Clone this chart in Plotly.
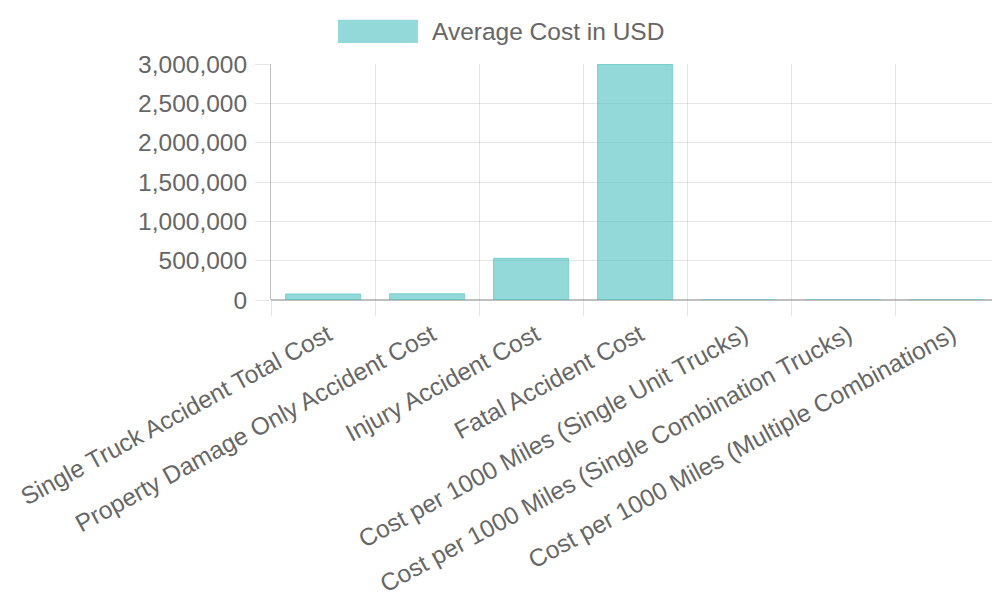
import plotly.graph_objects as go

# Average cost per accident type / per 1000 miles
categories = [
    "Single Truck Accident Total Cost",
    "Property Damage Only Accident Cost",
    "Injury Accident Cost",
    "Fatal Accident Cost",
    "Cost per 1000 Miles (Single Unit Trucks)",
    "Cost per 1000 Miles (Single Combination Trucks)",
    "Cost per 1000 Miles (Multiple Combinations)",
]
avg_cost = [77000, 80000, 530000, 3000000, 170, 190, 220]
series_name = "Average Cost in USD"

fill = "rgba(75, 192, 192, 0.6)"
grid = "rgba(0, 0, 0, 0.1)"
text_color = "#666"
fsize = 24.5

fig = go.Figure()
fig.add_trace(
    go.Bar(
        x=categories,
        y=avg_cost,
        name=series_name,
        marker=dict(color=fill, line=dict(color=fill, width=1)),
        width=0.72,
        showlegend=False,
    )
)

# Chart.js style legend: wide colour box + label, centred above the plot
fig.add_shape(type="rect", xref="paper", yref="paper",
              x0=0.092, x1=0.2019, y0=1.089, y1=1.187,
              fillcolor=fill, line=dict(width=0))
fig.add_annotation(text=series_name, xref="paper", yref="paper",
                   x=0.2184, y=1.136, xanchor="left", yanchor="middle",
                   showarrow=False, font=dict(size=fsize, color=text_color))

fig.update_xaxes(
    type="category",
    tickson="boundaries",
    showgrid=True,
    gridcolor=grid,
    ticks="outside",
    ticklen=15,
    tickcolor=grid,
    tickangle=-28.5,
    ticklabelstandoff=15,
    ticklabelshift=5,
    tickfont=dict(size=fsize, color=text_color),
    showline=False,
    zeroline=False,
    automargin=False,
)
fig.update_yaxes(
    range=[0, 3000000],
    dtick=500000,
    tickformat=",d",
    showgrid=True,
    gridcolor=grid,
    ticks="outside",
    ticklen=15,
    tickcolor=grid,
    ticklabelstandoff=3,
    tickfont=dict(size=fsize, color=text_color),
    showline=True,
    linecolor="rgba(0, 0, 0, 0.25)",
    zeroline=True,
    zerolinecolor="rgba(0, 0, 0, 0.25)",
    zerolinewidth=1.5,
    automargin=False,
)

fig.update_layout(
    width=1000,
    height=600,
    margin=dict(l=263, r=9, t=56, b=308),
    plot_bgcolor="white",
    paper_bgcolor="white",
    font=dict(family="Liberation Sans, Arial, sans-serif", color=text_color),
    bargap=0.28,
)

fig.write_html("out.html")
